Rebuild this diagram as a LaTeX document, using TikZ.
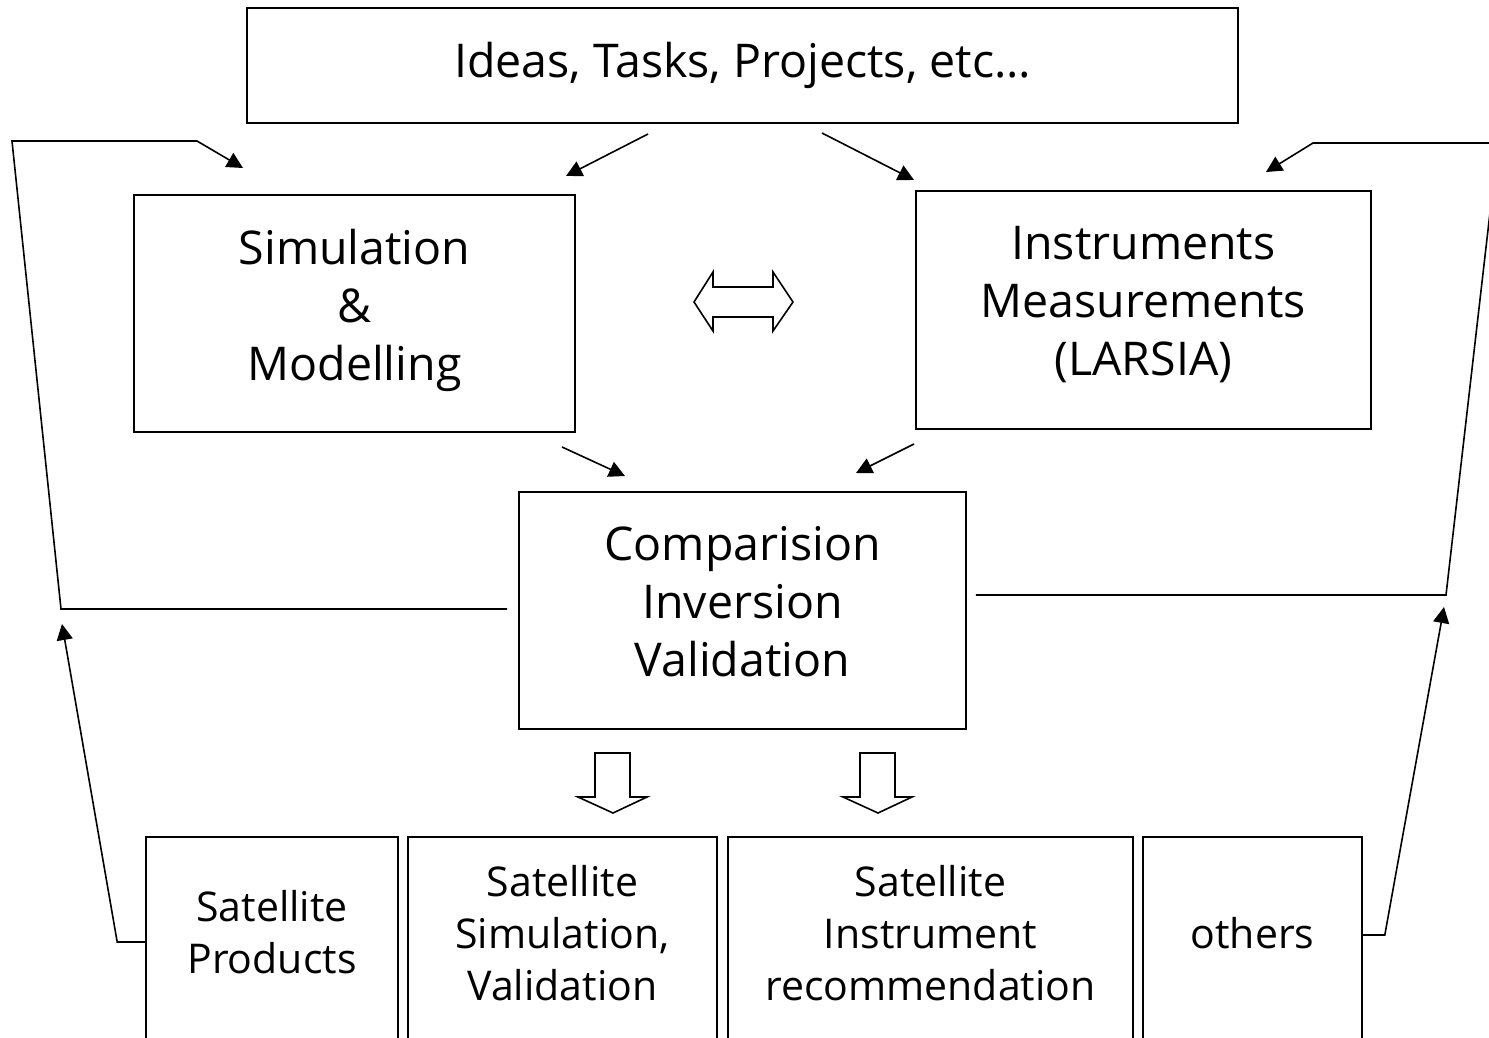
\documentclass[tikz,border=0pt]{standalone}
\usepackage{fontspec}
\setmainfont{Open Sans}
\usetikzlibrary{arrows.meta}

\tikzset{%
        main box/.style={
            rectangle,
            draw,
            line width=1.6pt,
            align=center,
            font=\fontsize{46.5}{58}\selectfont,
            execute at end node=\strut
        },
        out box/.style={
            rectangle,
            draw,
            line width=1.6pt,
            anchor=north,
            minimum height=240
        },
        out text/.style={
            align=center,
            font=\fontsize{41}{52}\selectfont
        },
        flow/.style={
            ->,
            line width=1.6pt
        },
        block arrow/.style={
            draw,
            line width=1.6pt,
            line join=miter
        },
    }

\begin{document}
\begin{tikzpicture}[x=1pt, y=-1pt, >={Triangle[length=16pt,width=16pt]}]

        \clip (0,0) rectangle (1489,1037);
        \fill[white] (0,0) rectangle (1489,1037);

        % upper blocks
        \node [main box, minimum width=991, minimum height=115] (ideas) at (742.5,65.5) {Ideas, Tasks, Projects, etc…};
        \node [main box, minimum width=441, minimum height=237] (sim) at (354.5,313.5) {Simulation\\\&\\Modelling};
        \node [main box, minimum width=455, minimum height=238] (instr) at (1143.5,310) {Instruments\\Measurements\\(LARSIA)};
        \node [main box, minimum width=447, minimum height=237] (comp) at (742.5,610.5) {Comparision\\Inversion\\Validation};

        % lower blocks, cut at the bottom
        \foreach \n/\a/\b in {prod/146/398, satsim/408/717, satinst/728/1133, others/1143/1362}
            \node [out box, minimum width=\b-\a] (\n) at ({(\a+\b)/2},836) {};

        \node [out text] (prod-t) at (prod.north |- 0,932) {Satellite\\Products};
        \node [out text] (satsim-t) at (satsim.north |- 0,933) {Satellite\\Simulation,\\Validation};
        \node [out text] (satinst-t) at (satinst.north |- 0,933) {Satellite\\Instrument\\recommendation};
        \node [out text] (others-t) at (others.north |- 0,933) {others};

        % arrows between the blocks
        \coordinate (ideas-l) at (648,134);
        \coordinate (ideas-r) at (822,133);
        \coordinate (sim-in) at (566,176);
        \coordinate (instr-in) at (914,180);
        \coordinate (sim-out) at (562,447);
        \coordinate (instr-out) at (914,444);
        \coordinate (comp-l) at (625,476);
        \coordinate (comp-r) at (856,473);

        \draw [flow] (ideas-l) -- (sim-in);
        \draw [flow] (ideas-r) -- (instr-in);
        \draw [flow] (sim-out) -- (comp-l);
        \draw [flow] (instr-out) -- (comp-r);

        % feedback loops
        \coordinate (loop-l1) at (61,609);
        \coordinate (loop-l2) at (12,141);
        \coordinate (loop-l3) at (197,141);
        \coordinate (sim-fb) at (243,168);
        \coordinate (loop-r1) at (1446,595);
        \coordinate (loop-r2) at (1498,143);
        \coordinate (loop-r3) at (1313,143);
        \coordinate (instr-fb) at (1266,172);
        \coordinate (prod-up) at (62,624);
        \coordinate (others-up) at (1444,607);

        \draw [flow] ([xshift=-11pt]comp.west |- loop-l1) -- (loop-l1) -- (loop-l2) -- (loop-l3) -- (sim-fb);
        \draw [flow] ([xshift=9pt]comp.east |- loop-r1) -- (loop-r1) -- (loop-r2) -- (loop-r3) -- (instr-fb);
        \draw [flow] (prod.west |- 0,942) -- ++(-28,0) -- (prod-up);
        \draw [flow] (others.east |- 0,935) -- ++(22,0) -- (others-up);

        % hollow arrows
        \draw [block arrow] (694,302) -- (713,272) -- (713,287) -- (773,287) -- (773,272) -- (793,302)
            -- (773,331) -- (773,317) -- (713,317) -- (713,331) -- cycle;
        \foreach \x in {595,860}
            \draw [block arrow] (\x,753) -- ++(35,0) -- ++(0,44) -- ++(17,0) -- ++(-34,16) -- ++(-35,-16) -- ++(17,0) -- cycle;
    \end{tikzpicture}
\end{document}
